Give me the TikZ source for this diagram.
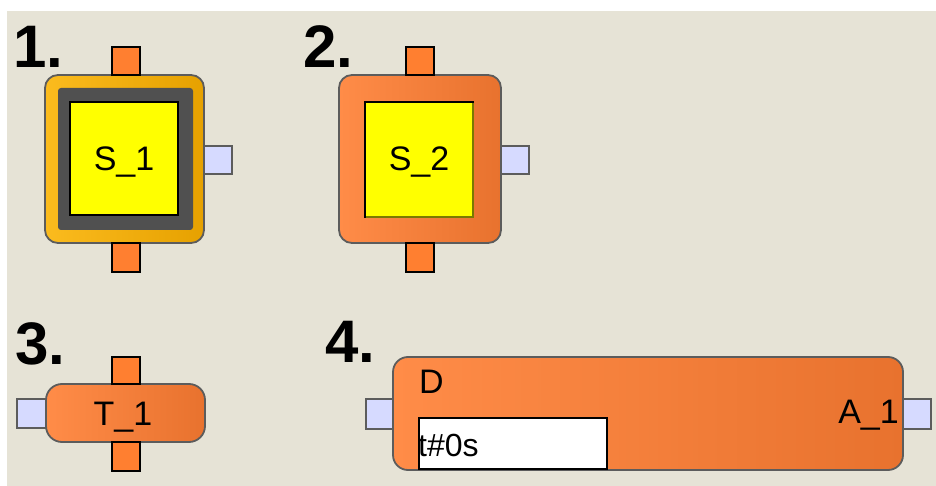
\documentclass[tikz,border=0pt]{standalone}
\usepackage{fontspec}
\setmainfont{Liberation Sans}
\begin{document}
\begin{tikzpicture}[x=1pt,y=-1pt,
  body/.style={draw=bordergray,line width=1.8pt,rounded corners=13pt},
  orangebody/.style={body,left color=orL,right color=orR},
  goldbody/.style={body,left color=goL,right color=goR},
  oport/.style={draw=black,fill=portor,line width=1.5pt},
  lport/.style={draw=bordergray,fill=portlav,line width=1.8pt},
  yel/.style={draw=black,fill=pureyellow,line width=1.5pt},
  lbl/.style={inner sep=0pt,font=\fontsize{34}{34}\selectfont},
  num/.style={inner sep=0pt,anchor=base west,font=\fontsize{60}{60}\selectfont\bfseries}]
\definecolor{bg}{HTML}{E6E3D6}
\definecolor{bordergray}{HTML}{5C5C5C}
\definecolor{orL}{HTML}{FF8C48}
\definecolor{orR}{HTML}{E8722E}
\definecolor{goL}{HTML}{FBBB1E}
\definecolor{goR}{HTML}{E6A100}
\definecolor{portor}{HTML}{FF7F30}
\definecolor{portlav}{HTML}{D6DAFF}
\definecolor{frame}{HTML}{505050}
\definecolor{pureyellow}{HTML}{FFFF00}
\definecolor{olivesh}{HTML}{7A7A00}
\useasboundingbox (0,0) rectangle (936,486);
\fill[white] (0,0) rectangle (936,486);
\fill[bg] (7,11) rectangle (936,486);
% labels
\node[num] (n1) at (13,68) {1.};
\node[num] (n2) at (303,68) {2.};
\node[num] (n3) at (15,364) {3.};
\node[num] (n4) at (325,362) {4.};
% block 1
\draw[goldbody] (45,75) rectangle (204,243);
\fill[frame,rounded corners=3pt] (58,88) rectangle (193,230);
\draw[yel] (70,102) rectangle (178,215);
\node[lbl,anchor=base] (s1) at (124,171) {S\_1};
\draw[oport] (112,47) rectangle (140,75);
\draw[oport] (112,243) rectangle (140,272);
\draw[lport] (204,146) rectangle (232,174);
% block 2
\draw[orangebody] (339,75) rectangle (501,243);
\draw[yel] (365,102) rectangle (473,217);
\draw[draw=olivesh,line width=1.5pt] (473,103) -- (473,217) -- (366,217);
\node[lbl,anchor=base] (s2) at (419,171) {S\_2};
\draw[oport] (406,47) rectangle (434,75);
\draw[oport] (406,243) rectangle (434,272);
\draw[lport] (501,146) rectangle (529,174);
% block 3
\draw[orangebody,rounded corners=16pt] (46,384) rectangle (205,442);
\node[lbl,anchor=base] (t1) at (123,425) {T\_1};
\draw[oport] (112,357) rectangle (140,384);
\draw[oport] (112,442) rectangle (140,471);
\draw[lport] (17,399) rectangle (46,428);
% block 4
\draw[orangebody,rounded corners=15pt] (393,357) rectangle (903,470);
\node[lbl,anchor=base west] (d) at (419,393) {D};
\node[lbl,anchor=base east] (a1) at (899,423) {A\_1};
\draw[draw=black,fill=white,line width=2pt] (419,418) rectangle (607,469);
\node[anchor=base west,inner sep=0pt,font=\fontsize{32}{32}\selectfont] (t0) at (418,456) {t\#0s};
\draw[lport] (366,399) rectangle (393,429);
\draw[lport] (903,399) rectangle (931,429);
\end{tikzpicture}
\end{document}
